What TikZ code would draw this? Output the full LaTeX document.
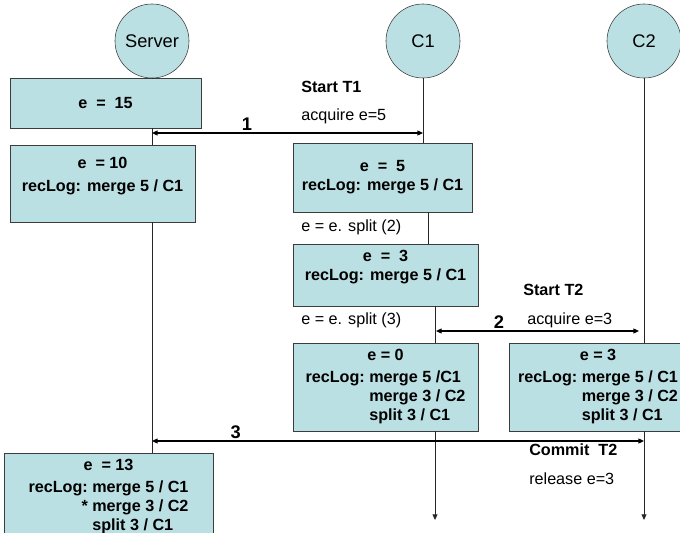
\documentclass[tikz,border=0pt]{standalone}
\usepackage{fontspec}
\setmainfont{Liberation Sans}
\usetikzlibrary{positioning, arrows.meta}
\usepackage{xcolor}
\definecolor{StateBlue}{RGB}{187, 224, 227}
\definecolor{EdgeGray}{RGB}{60, 60, 60}

\newcommand{\boxfont}{\fontsize{11.5}{13.5}\selectfont}

\begin{document}
\begin{tikzpicture}[x=0.025cm, y=-0.025cm]
        \tikzstyle{party} = [circle, draw=EdgeGray, fill=StateBlue, minimum size=1.85cm,
          inner sep=0pt, font=\fontsize{13}{15}\selectfont]
        \tikzstyle{state} = [rectangle, draw=EdgeGray, fill=StateBlue, inner sep=0pt,
          font=\boxfont\bfseries, align=center]
        \tikzstyle{life} = [draw=black!85, line width=0.6pt]
        \tikzstyle{tip} = [-{Triangle[length=4pt, width=3.5pt]}]
        \tikzstyle{msg} = [{Triangle[length=4pt, width=3.5pt]}-{Triangle[length=4pt, width=3.5pt]},
          line width=0.9pt]
        \tikzstyle{hop} = [above=1.5pt, inner sep=0pt, font=\fontsize{13}{15}\selectfont\bfseries]
        \tikzstyle{note} = [anchor=west, inner sep=0pt, font=\boxfont]
        \tikzstyle{head} = [note, font=\boxfont\bfseries]

        \clip (0,0) rectangle (680,533);

        % parties
        \node[party] (server) at (152,41) {Server};
        \node[party] (c1) at (423,41) {C1};
        \node[party] (c2) at (644,41) {C2};

        % states of e
        \node[state, minimum width=4.775cm, minimum height=1.25cm] (s0) at (105.5,103)
          {e\ \ =\ \ 15};
        \node[state, minimum width=4.625cm, minimum height=1.925cm] (s1) at (102.5,183.5)
          {e\ \ = 10\\[3pt] recLog: merge 5 / C1\\ \mbox{}};
        \node[state, minimum width=5.225cm, minimum height=2.175cm] (s2) at (108.5,496.5)
          {\begin{tabular}{@{}r@{\ }l@{}}
           \multicolumn{2}{c}{e\ \ = 13}\\[2pt]
           recLog: & merge 5 / C1\\
           {*} & merge 3 / C2\\
             & split 3 / C1
           \end{tabular}};
        \node[state, minimum width=4.475cm, minimum height=1.725cm] (c1a) at (382.5,177.5)
          {e\ \ =\ \ 5\\ recLog: merge 5 / C1};
        \node[state, minimum width=4.625cm, minimum height=1.55cm] (c1b) at (385.5,275)
          {e\ \ =\ \ 3\\ recLog: merge 5 / C1\\ \mbox{}};
        \node[state, minimum width=4.625cm, minimum height=2.2cm] (c1c) at (385.5,387)
          {\begin{tabular}{@{}r@{\ }l@{}}
           \multicolumn{2}{c}{e = 0}\\[2pt]
           recLog: & merge 5 /C1\\
             & merge 3 / C2\\
             & split 3 / C1
           \end{tabular}};
        \node[state, minimum width=4.45cm, minimum height=2.2cm] (c2a) at (598,387)
          {\begin{tabular}{@{}r@{\ }l@{}}
           \multicolumn{2}{c}{e = 3}\\[2pt]
           recLog: & merge 5 / C1\\
             & merge 3 / C2\\
             & split 3 / C1
           \end{tabular}};

        % lifelines
        \coordinate (c1mid) at (428,0);
        \coordinate (c1low) at (435,0);
        \coordinate (c1end) at (435,520);
        \coordinate (c2end) at (644,520);
        \draw[life] (server) -- (server |- s0.north);
        \draw[life] (s0.south -| server) -- (s1.north -| server);
        \draw[life] (s1.south -| server) -- (s2.north -| server);
        \draw[life] (c1) -- (c1 |- c1a.north);
        \draw[life] (c1a.south -| c1mid) -- (c1b.north -| c1mid);
        \draw[life] (c1b.south -| c1low) -- (c1c.north -| c1low);
        \draw[life, tip] (c1c.south -| c1low) -- (c1end);
        \draw[life] (c2) -- (c2 |- c2a.north);
        \draw[life, tip] (c2a.south -| c2) -- (c2end);

        % messages
        \coordinate (m1s) at (152,133);
        \coordinate (m1c) at (423,133);
        \coordinate (m2a) at (436,331);
        \coordinate (m2b) at (639,331);
        \coordinate (m3s) at (152,441);
        \coordinate (m3c) at (644,441);
        \draw[msg] (m1s) -- node[hop, pos=0.35] {1} (m1c);
        \draw[msg] (m2a) -- node[hop, pos=0.31] {2} (m2b);
        \draw[msg] (m3s) -- node[hop, pos=0.17] {3} (m3c);

        % notes
        \node[head] (st1) at (301,87) {Start T1};
        \node[note] (acq1) at (301,116) {acquire e=5};
        \node[note] (sp2) at (301,227) {e = e. split (2)};
        \node[note] (sp3) at (301,320) {e = e. split (3)};
        \node[head] (st2) at (523,290) {Start T2};
        \node[note] (acq2) at (527,320) {acquire e=3};
        \node[head] (ct2) at (529,450) {Commit\ \ T2};
        \node[note] (rel2) at (529,479) {release e=3};
\end{tikzpicture}
\end{document}
